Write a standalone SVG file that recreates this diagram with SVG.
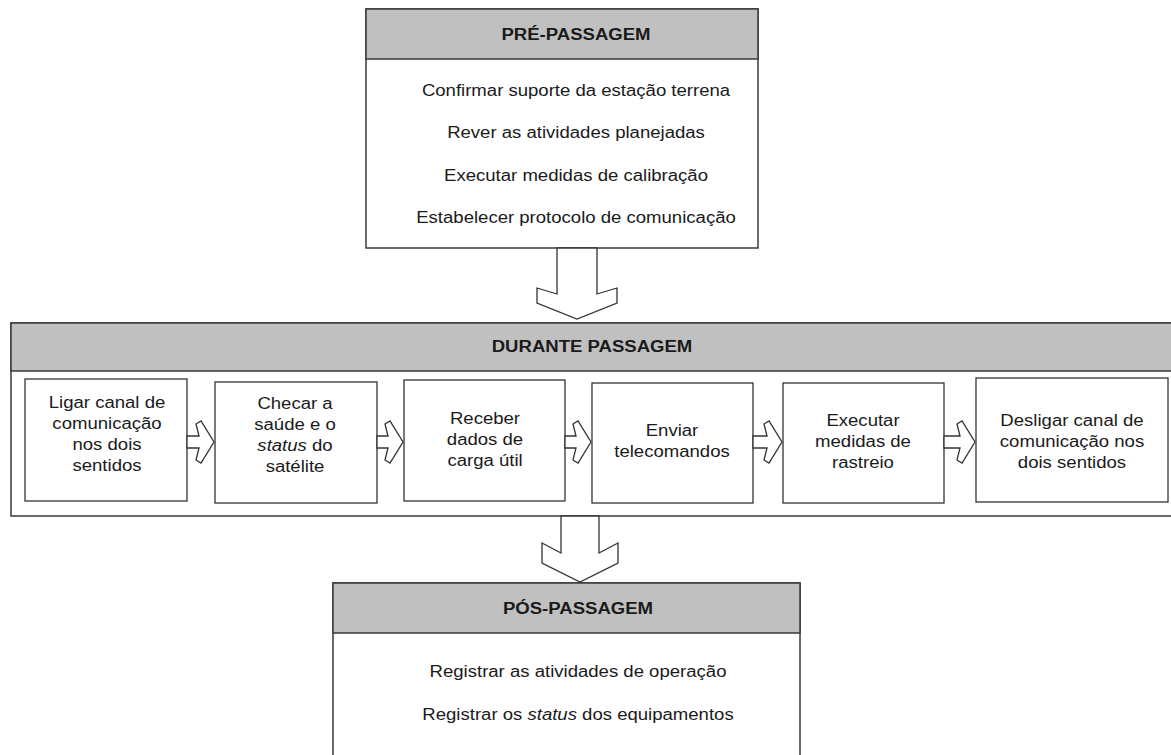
<svg xmlns="http://www.w3.org/2000/svg" width="1171" height="755" viewBox="0 0 1171 755">
<style>
.box{fill:#fff;stroke:#3a3a3a;stroke-width:1.5}
.hdr{fill:#c0c0c0;stroke:#3a3a3a;stroke-width:1.5}
.inner{fill:#fff;stroke:#333;stroke-width:1.3}
.arr{fill:#fff;stroke:#333;stroke-width:1.3;stroke-linejoin:miter}
text{font-family:"Liberation Sans",Arial,sans-serif;font-size:16px;fill:#1a1a1a;text-anchor:middle}
.t{font-weight:bold}
.i{font-style:italic}
</style>
<rect width="1171" height="755" fill="#fff"/>

<g id="pre-passagem">
<rect class="box" x="366" y="9" width="392" height="239"/>
<rect class="hdr" x="366" y="9" width="392" height="50"/>
<g transform="translate(576,0) scale(1.16,1)">
<text class="t" x="0" y="40">PRÉ-PASSAGEM</text>
<text x="0" y="96">Confirmar suporte da estação terrena</text>
<text x="0" y="138">Rever as atividades planejadas</text>
<text x="0" y="181">Executar medidas de calibração</text>
<text x="0" y="223">Estabelecer protocolo de comunicação</text>
</g>
</g>

<g id="durante-passagem">
<rect class="box" x="11" y="323" width="1172" height="193"/>
<rect class="hdr" x="11" y="323" width="1172" height="48"/>
<g transform="translate(592,0) scale(1.16,1)">
<text class="t" x="0" y="352">DURANTE PASSAGEM</text>
</g>
</g>

<g id="ligar">
<rect class="inner" x="25" y="379" width="162" height="122"/>
<g transform="translate(107,0) scale(1.16,1)">
<text x="0" y="408">Ligar canal de</text>
<text x="0" y="429">comunicação</text>
<text x="0" y="450">nos dois</text>
<text x="0" y="471">sentidos</text>
</g>
</g>

<g id="checar">
<rect class="inner" x="215" y="382" width="162" height="121"/>
<g transform="translate(295,0) scale(1.16,1)">
<text x="0" y="409">Checar a</text>
<text x="0" y="430">saúde e o</text>
<text x="0" y="451"><tspan class="i">status</tspan> do</text>
<text x="0" y="472">satélite</text>
</g>
</g>

<g id="receber">
<rect class="inner" x="404" y="380" width="161" height="121"/>
<g transform="translate(485,0) scale(1.16,1)">
<text x="0" y="424">Receber</text>
<text x="0" y="445">dados de</text>
<text x="0" y="466">carga útil</text>
</g>
</g>

<g id="enviar">
<rect class="inner" x="592" y="383" width="161" height="120"/>
<g transform="translate(672,0) scale(1.16,1)">
<text x="0" y="436">Enviar</text>
<text x="0" y="457">telecomandos</text>
</g>
</g>

<g id="executar">
<rect class="inner" x="783" y="383" width="161" height="120"/>
<g transform="translate(863,0) scale(1.16,1)">
<text x="0" y="426">Executar</text>
<text x="0" y="447">medidas de</text>
<text x="0" y="468">rastreio</text>
</g>
</g>

<g id="desligar">
<rect class="inner" x="976" y="378" width="192" height="124"/>
<g transform="translate(1072,0) scale(1.16,1)">
<text x="0" y="426">Desligar canal de</text>
<text x="0" y="447">comunicação nos</text>
<text x="0" y="468">dois sentidos</text>
</g>
</g>

<g id="pos-passagem">
<rect class="box" x="333" y="583" width="467" height="180"/>
<rect class="hdr" x="333" y="583" width="467" height="50"/>
<g transform="translate(578,0) scale(1.16,1)">
<text class="t" x="0" y="614">PÓS-PASSAGEM</text>
<text x="0" y="677">Registrar as atividades de operação</text>
<text x="0" y="720">Registrar os <tspan class="i">status</tspan> dos equipamentos</text>
</g>
</g>

<g id="connectors">
<polygon class="arr" points="557,248 557,294 537,288 537,303 577,319 617,303 617,288 597,294 597,248"/>
<polygon class="arr" points="561,516 561,553 542,543 542,563 580,582 618,563 618,543 599,553 599,516"/>
<polygon class="arr" points="187,436 199,436 196,424 201,421 214,442 201,463 196,460 199,448 187,448"/>
<polygon class="arr" points="377,436 388,436 385,424 390,421 403,442 390,463 385,460 388,448 377,448"/>
<polygon class="arr" points="565,436 576,436 573,424 578,421 591,442 578,463 573,460 576,448 565,448"/>
<polygon class="arr" points="753,436 767,436 764,424 769,421 782,442 769,463 764,460 767,448 753,448"/>
<polygon class="arr" points="944,436 960,436 957,424 962,421 975,442 962,463 957,460 960,448 944,448"/>
</g>
</svg>
